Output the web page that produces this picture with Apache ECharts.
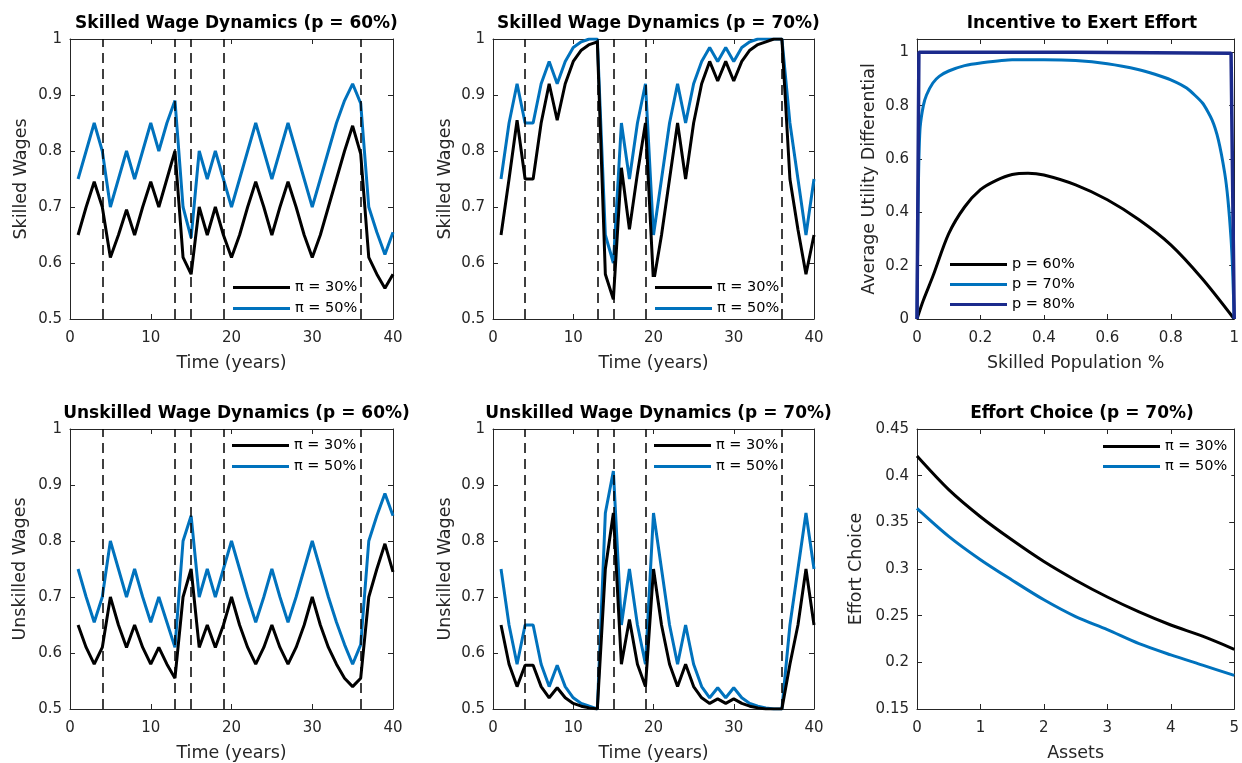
<!DOCTYPE html>
<html>
<head>
<meta charset="utf-8">
<script src="https://cdn.jsdelivr.net/npm/echarts@6/dist/echarts.min.js"></script>
<style>
html,body{margin:0;padding:0;background:#fff;}
#chart{width:1242px;height:763px;}
</style>
</head>
<body>
<div id="chart"></div>
<script>
// ---------- DATA ----------
const years = [1,2,3,4,5,6,7,8,9,10,11,12,13,14,15,16,17,18,19,20,21,22,23,24,25,26,27,28,29,30,31,32,33,34,35,36,37,38,39,40];
const shockYears = [4, 13, 15, 19, 36];

const skilled60_pi30 = [0.65,0.70,0.745,0.70,0.61,0.65,0.695,0.65,0.70,0.745,0.70,0.75,0.80,0.61,0.58,0.70,0.65,0.70,0.65,0.61,0.65,0.70,0.745,0.70,0.65,0.70,0.745,0.70,0.65,0.61,0.65,0.70,0.75,0.80,0.845,0.795,0.61,0.58,0.555,0.58];
const skilled60_pi50 = [0.75,0.80,0.85,0.80,0.70,0.75,0.80,0.75,0.80,0.85,0.80,0.85,0.89,0.70,0.645,0.80,0.75,0.80,0.75,0.70,0.75,0.80,0.85,0.80,0.75,0.80,0.85,0.80,0.75,0.70,0.75,0.80,0.85,0.89,0.92,0.885,0.70,0.655,0.615,0.655];

const skilled70_pi30 = [0.65,0.75,0.855,0.75,0.75,0.85,0.92,0.855,0.92,0.96,0.98,0.99,0.995,0.58,0.535,0.77,0.66,0.76,0.85,0.565,0.65,0.75,0.85,0.75,0.85,0.92,0.96,0.925,0.96,0.925,0.96,0.98,0.99,0.995,1.0,1.0,0.75,0.66,0.58,0.65];
const skilled70_pi50 = [0.75,0.85,0.92,0.85,0.85,0.92,0.96,0.92,0.96,0.985,0.995,1.0,1.0,0.65,0.60,0.85,0.75,0.85,0.92,0.65,0.75,0.85,0.92,0.85,0.92,0.96,0.985,0.96,0.985,0.96,0.985,0.995,1.0,1.0,1.0,1.0,0.85,0.75,0.65,0.75];

const unskilled60_pi30 = [0.65,0.61,0.58,0.61,0.70,0.65,0.61,0.65,0.61,0.58,0.61,0.58,0.555,0.70,0.75,0.61,0.65,0.61,0.65,0.70,0.65,0.61,0.58,0.61,0.65,0.61,0.58,0.61,0.65,0.70,0.65,0.61,0.58,0.555,0.54,0.555,0.70,0.75,0.795,0.745];
const unskilled60_pi50 = [0.75,0.70,0.655,0.70,0.80,0.75,0.70,0.75,0.70,0.655,0.70,0.655,0.61,0.80,0.845,0.70,0.75,0.70,0.75,0.80,0.75,0.70,0.655,0.70,0.75,0.70,0.655,0.70,0.75,0.80,0.75,0.70,0.655,0.615,0.58,0.615,0.80,0.845,0.885,0.845];

const unskilled70_pi30 = [0.65,0.58,0.54,0.578,0.578,0.54,0.52,0.538,0.52,0.51,0.505,0.502,0.50,0.75,0.85,0.58,0.66,0.58,0.54,0.75,0.65,0.58,0.54,0.58,0.54,0.52,0.51,0.518,0.51,0.518,0.51,0.505,0.502,0.50,0.50,0.50,0.58,0.65,0.75,0.65];
const unskilled70_pi50 = [0.75,0.65,0.58,0.65,0.65,0.58,0.54,0.578,0.54,0.52,0.51,0.505,0.50,0.85,0.925,0.65,0.75,0.65,0.58,0.85,0.75,0.65,0.58,0.65,0.58,0.54,0.52,0.538,0.52,0.538,0.52,0.51,0.505,0.502,0.50,0.50,0.65,0.75,0.85,0.75];

const popX60 = [0,0.02,0.05,0.1,0.15,0.2,0.25,0.3,0.35,0.4,0.5,0.6,0.7,0.8,0.9,1];
const incentive60 = [0,0.07,0.16,0.32,0.42,0.485,0.52,0.542,0.547,0.54,0.503,0.447,0.372,0.278,0.15,0];
const popX70 = [0,0.003,0.006,0.01,0.02,0.03,0.05,0.07,0.1,0.15,0.2,0.3,0.4,0.5,0.6,0.7,0.75,0.8,0.85,0.9,0.93,0.95,0.97,0.98,0.99,0.995,1];
const incentive70 = [0,0.4,0.6,0.72,0.8,0.84,0.885,0.91,0.93,0.95,0.96,0.972,0.972,0.969,0.957,0.935,0.918,0.897,0.866,0.81,0.747,0.672,0.547,0.45,0.3,0.18,0];
const popX80 = [0,0.006,0.5,0.99,0.996,1];
const incentive80 = [0,1,1,0.997,0.99,0];

const assets = [0,0.5,1,1.5,2,2.5,3,3.5,4,4.5,5];
const effort_pi30 = [0.421,0.385,0.356,0.331,0.308,0.288,0.270,0.254,0.240,0.228,0.214];
const effort_pi50 = [0.365,0.335,0.310,0.288,0.267,0.249,0.235,0.220,0.208,0.197,0.186];

const titles = ['Skilled Wage Dynamics (p = 60%)','Skilled Wage Dynamics (p = 70%)','Incentive to Exert Effort',
                'Unskilled Wage Dynamics (p = 60%)','Unskilled Wage Dynamics (p = 70%)','Effort Choice (p = 70%)'];
const xNames = ['Time (years)','Time (years)','Skilled Population %','Time (years)','Time (years)','Assets'];
const yNames = ['Skilled Wages','Skilled Wages','Average Utility Differential','Unskilled Wages','Unskilled Wages','Effort Choice'];
const piNames = ['π = 30%','π = 50%'];
const pNames = ['p = 60%','p = 70%','p = 80%'];

// ---------- LAYOUT ----------
const FONT = 'DejaVu Sans, Liberation Sans, sans-serif';
const AX = '#262626';
const BLACK = '#000000', BLUE = '#0072BD', NAVY = '#1B2A8C';
const grids = [
  {left:70, top:39, width:323, height:280},
  {left:493, top:39, width:321, height:280},
  {left:917, top:39, width:320, height:280},
  {left:70, top:429, width:323, height:280},
  {left:493, top:429, width:321, height:280},
  {left:917, top:429, width:320, height:280}
];
const xRanges = [[0,40,10],[0,40,10],[0,1,0.2],[0,40,10],[0,40,10],[0,5,1]];
const yRanges = [[0.5,1,0.1],[0.5,1,0.1],[0,1.05,0.2],[0.5,1,0.1],[0.5,1,0.1],[0.15,0.45,0.05]];
const yNameGaps = [40,39,39,41,39,52];

const xAxes = [], yAxes = [], titleArr = [];
grids.forEach((g,i)=>{
  const [xmin,xmax,xi] = xRanges[i];
  const [ymin,ymax,yi] = yRanges[i];
  const common = {
    type:'value', splitLine:{show:false},
    axisLine:{show:true, onZero:false, lineStyle:{color:AX,width:1}},
    axisTick:{show:true, inside:true, length:5, lineStyle:{color:AX,width:1}}
  };
  xAxes.push(Object.assign({}, common, {
    gridIndex:i, position:'bottom', min:xmin, max:xmax, interval:xi,
    name:xNames[i], nameLocation:'middle', nameGap:35,
    nameTextStyle:{color:AX, fontSize:17.5, fontFamily:FONT},
    axisLabel:{color:AX, fontSize:15, fontFamily:FONT, margin:12}
  }));
  xAxes.push(Object.assign({}, common, {
    gridIndex:i, position:'top', min:xmin, max:xmax, interval:xi, axisLabel:{show:false}
  }));
  yAxes.push(Object.assign({}, common, {
    gridIndex:i, position:'left', min:ymin, max:ymax, interval:yi,
    name:yNames[i], nameLocation:'middle', nameGap:yNameGaps[i],
    nameTextStyle:{color:AX, fontSize:17.5, fontFamily:FONT},
    axisLabel:{color:AX, fontSize:15, fontFamily:FONT, margin:8,
      formatter:(v)=> (v>ymax-1e-9 && i===2) ? '' : String(+v.toFixed(2))}
  }));
  yAxes.push(Object.assign({}, common, {
    gridIndex:i, position:'right', min:ymin, max:ymax, interval:yi, axisLabel:{show:false}
  }));
  titleArr.push({
    text:titles[i], left:g.left+g.width/2, textAlign:'center', top: (i<3?10:400),
    textStyle:{fontSize:17, fontWeight:'bold', color:'#000', fontFamily:FONT}
  });
});

function pairs(xs, ys){ return xs.map((x,k)=>[x, ys[k]]); }

const dashMark = {
  silent:true, symbol:['none','none'], label:{show:false},
  lineStyle:{type:[10,6], color:'#000', width:1.5},
  emphasis:{disabled:true},
  data: shockYears.map(v=>({xAxis:v}))
};

function lineSeries(name, idx, data, color, width, extra){
  return Object.assign({
    type:'line', name, xAxisIndex:2*idx, yAxisIndex:2*idx, data,
    showSymbol:false, symbol:'none', color,
    lineStyle:{color, width: width||3}, animation:false
  }, extra||{});
}

const wagePanels = [
  [skilled60_pi30, skilled60_pi50],
  [skilled70_pi30, skilled70_pi50],
  null,
  [unskilled60_pi30, unskilled60_pi50],
  [unskilled70_pi30, unskilled70_pi50]
];
const series = [];
[0,1,3,4].forEach(i=>{
  series.push(lineSeries(piNames[0], i, pairs(years, wagePanels[i][0]), BLACK, 3, {markLine: dashMark, z:3}));
  series.push(lineSeries(piNames[1], i, pairs(years, wagePanels[i][1]), BLUE, 3, {z:2}));
});
series.push(lineSeries(pNames[0], 2, pairs(popX60, incentive60), BLACK, 3, {smooth:0.3}));
series.push(lineSeries(pNames[1], 2, pairs(popX70, incentive70), BLUE, 3, {smooth:0.2}));
series.push(lineSeries(pNames[2], 2, pairs(popX80, incentive80), NAVY, 3.5));
series.push(lineSeries(piNames[0], 5, pairs(assets, effort_pi30), BLACK, 3, {smooth:0.3}));
series.push(lineSeries(piNames[1], 5, pairs(assets, effort_pi50), BLUE, 3, {smooth:0.3}));

function legend(left, top, names, gap){
  return {
    left, top, orient:'vertical', data:names, itemWidth:57, itemHeight:3, icon:'rect',
    itemGap:gap, backgroundColor:'#ffffff', padding:[2,4,2,4], selectedMode:false,
    textStyle:{fontSize:14.5, color:'#000', fontFamily:FONT, lineHeight:17}
  };
}
const legends = [
  legend(229, 277, piNames, 4),
  legend(651, 277, piNames, 4),
  legend(946, 254, pNames, 3),
  legend(228, 435, piNames, 4),
  legend(650, 435, piNames, 4),
  legend(1099, 436, piNames, 3)
];

const chart = echarts.init(document.getElementById('chart'), null, {renderer:'canvas'});
chart.setOption({
  backgroundColor:'#ffffff',
  animation:false,
  title:titleArr,
  grid:grids.map(g=>Object.assign({containLabel:false}, g)),
  xAxis:xAxes,
  yAxis:yAxes,
  legend:legends,
  series
});
</script>
</body>
</html>
